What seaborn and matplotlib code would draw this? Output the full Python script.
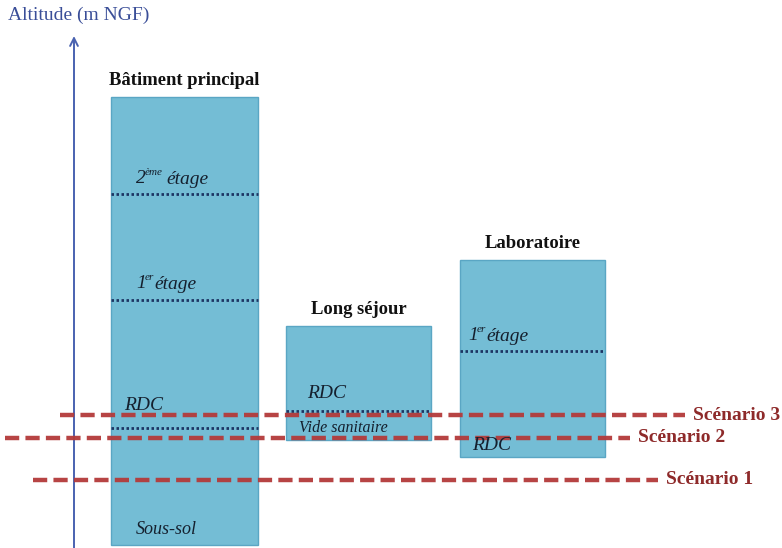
import matplotlib
matplotlib.use("Agg")
import matplotlib.pyplot as plt
import seaborn as sns
import pandas as pd

# ---- data (altitudes, arbitrary metres NGF scale) ----
buildings = ["Bâtiment principal", "Long séjour", "Laboratoire"]
base_alt = [0.3, 10.8, 9.1]
top_alt = [45.1, 22.2, 28.8]
floor_building = [0, 0, 0, 1, 2]
floor_alt = [12.0, 24.8, 35.4, 13.7, 19.7]
scenarios = ["Scénario 1", "Scénario 2", "Scénario 3"]
scenario_alt = [6.8, 11.0, 13.3]
axis_label = "Altitude (m NGF)"

# ---- layout helpers (pixel -> data) ----
W, H = 782, 548
def X(px):
    return (px - 184.5) / 174.0
def Y(py):
    return (H - py) / 10.0

FILL = "#74bdd5"
EDGE = "#5aa6c4"
DOT = "#1d3563"
RED = "#b33a3a"
RED_TXT = "#8e2a2a"
AXC = "#4a62b0"

sns.set_theme(style="white")
plt.rcParams["font.family"] = ["Liberation Serif", "DejaVu Serif"]

fig = plt.figure(figsize=(W / 100, H / 100), dpi=100)
ax = fig.add_axes([0, 0, 1, 1])

df = pd.DataFrame({"building": buildings,
                   "height": [t - b for t, b in zip(top_alt, base_alt)]})
sns.barplot(data=df, x="building", y="height", order=buildings, color=FILL,
            saturation=1, edgecolor=EDGE, linewidth=1.0, width=0.835, ax=ax)
for patch, b in zip(ax.patches, base_alt):
    patch.set_y(b)
ax.patches[0].set_width(147 / 174)
ax.patches[0].set_x(X(111))

ax.set_xlim(X(0), X(W))
ax.set_ylim(Y(H), Y(0))
ax.axis("off")

# floor separations (dotted)
for bi, alt in zip(floor_building, floor_alt):
    p = ax.patches[bi]
    ax.hlines(alt, p.get_x(), p.get_x() + p.get_width(), colors=DOT,
              linewidth=2.0, linestyles=(0, (0.9, 0.9)), zorder=3)

# building titles
for i, (name, top) in enumerate(zip(buildings, top_alt)):
    ax.text(i, top + 1.6, name, ha="center", va="center", fontsize=13.4,
            fontweight="bold", color="#111111")

# scenario lines
line_start = [33, 5, 60]
line_end = [658, 630, 685]
for name, alt, x0, x1 in zip(scenarios, scenario_alt, line_start, line_end):
    ax.hlines(alt, X(x0), X(x1), colors=RED, linewidth=3.2,
              linestyles=(0, (3.2, 1.4)), zorder=4, alpha=0.95)
    ax.text(X(x1 + 8), alt, name, ha="left", va="center", fontsize=14,
            fontweight="bold", color=RED_TXT)

# italic floor labels
it = dict(style="italic", color="#15202e", va="center", ha="left")
def lab(px, py, s, size=14):
    ax.text(X(px), Y(py), s, fontsize=size, zorder=5, **it)

lab(136, 179, "2")
lab(145, 173, "ème", 8)
lab(166, 180, "étage")
lab(136, 284, "1")
lab(145, 278, "er", 8)
lab(154, 285, "étage")
lab(124, 406, "RDC", 14)
lab(136, 530, "Sous-sol", 13)
lab(307, 393, "RDC", 14)
lab(299, 428, "Vide sanitaire", 11.5)
lab(468, 336, "1")
lab(477, 330, "er", 8)
lab(486, 337, "étage")
lab(472, 446, "RDC", 14)

# altitude axis arrow
ax.annotate("", xy=(X(74), Y(36)), xytext=(X(74), Y(H + 2)),
            arrowprops=dict(arrowstyle="->", color=AXC, lw=1.4,
                            mutation_scale=14, shrinkA=0, shrinkB=0))
ax.text(X(8), Y(15), axis_label, ha="left", va="center", fontsize=14,
        color="#3a4e98")

fig.savefig("out.png", dpi=100)
